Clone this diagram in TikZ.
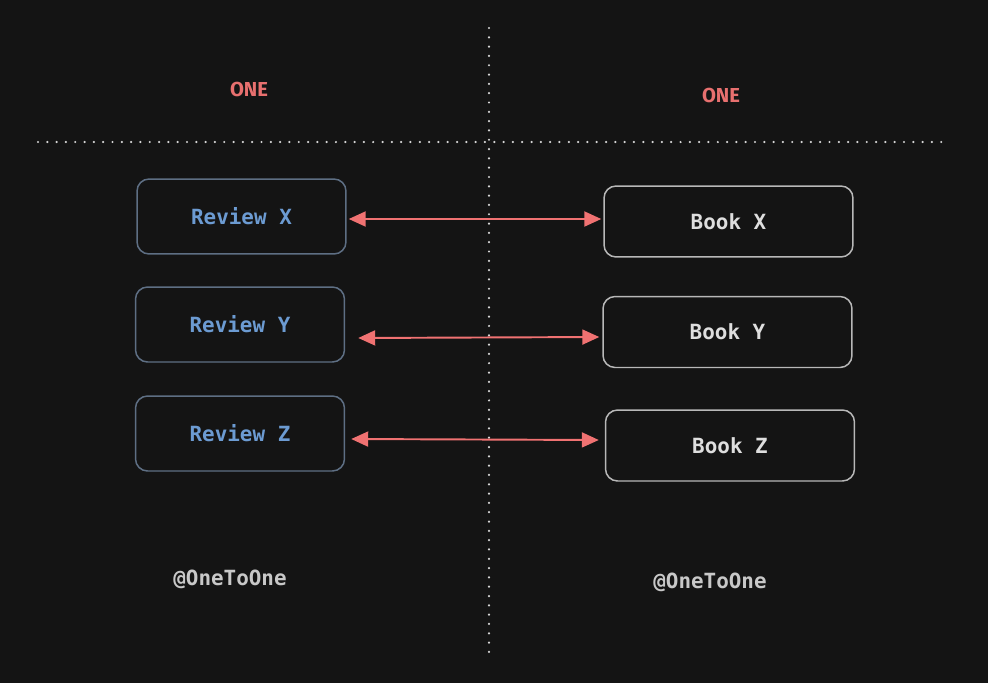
\documentclass[tikz,border=0pt]{standalone}
\usepackage{mathtools}
\usepackage{fontspec}
\setmainfont{Fira Sans}
\setmonofont{DejaVu Sans Mono}
\usepackage{tikz}
\usetikzlibrary{arrows.meta}
\definecolor{bg}{HTML}{141414}
\definecolor{onered}{HTML}{E8706F}
\definecolor{linkred}{HTML}{F07272}
\definecolor{reviewedge}{HTML}{5E6F84}
\definecolor{reviewtext}{HTML}{6C9BD2}
\definecolor{bookedge}{HTML}{B8B8B8}
\definecolor{booktext}{HTML}{DEDEDE}
\definecolor{sepgray}{HTML}{D5D5D5}
\definecolor{annotext}{HTML}{C8C8C8}

\begin{document}
\begin{tikzpicture}[x=0.02cm, y=-0.02cm,
  review/.style={draw=reviewedge, line width=0.85pt, rounded corners=0.24cm, minimum width=4.18cm, minimum height=1.5cm, text=reviewtext, font=\ttfamily\bfseries\fontsize{11.9}{14}\selectfont},
  book/.style={draw=bookedge, line width=0.85pt, rounded corners=0.24cm, minimum width=4.98cm, minimum height=1.42cm, text=booktext, font=\ttfamily\bfseries\fontsize{11.9}{14}\selectfont},
  side/.style={text=onered, font=\bfseries\fontsize{11.5}{14}\selectfont},
  anno/.style={text=annotext, font=\ttfamily\bfseries\fontsize{11.9}{14}\selectfont},
  link/.style={draw=linkred, line width=1.1pt, {Triangle[length=0.34cm,width=0.3cm]}-{Triangle[length=0.34cm,width=0.3cm]}},
  sep/.style={draw=sepgray, line width=1.4pt, line cap=round, dash pattern=on 0pt off 5.3pt}]
\fill [bg] (0,0) rectangle (988,683);
\useasboundingbox (0,0) rectangle (988,683);

\coordinate (vtop) at (489,28);
\coordinate (vbot) at (489,660);
\coordinate (hl) at (38,142);
\coordinate (hr) at (948,142);
\draw [sep] (vtop) -- (vbot);
\draw [sep] (hl) -- (hr);

\node [side] (onel) at (249,89) {ONE};
\node [side] (oner) at (721,95) {ONE};

\node [review] (rx) at (241.5,216.5) {Review X};
\node [review] (ry) at (240,324.5) {Review Y};
\node [review] (rz) at (240,433.5) {Review Z};

\node [book] (bx) at (728.5,221.5) {Book X};
\node [book] (by) at (727.5,332) {Book Y};
\node [book] (bz) at (730,445.5) {Book Z};

\draw [link] ([xshift=0.04cm, yshift=-0.05cm]rx.east) -- ([xshift=-0.04cm, yshift=0.05cm]bx.west);
\draw [link] ([xshift=0.26cm, yshift=-0.27cm]ry.east) -- ([xshift=-0.06cm, yshift=-0.1cm]by.west);
\draw [link] ([xshift=0.12cm, yshift=-0.11cm]rz.east) -- ([xshift=-0.12cm, yshift=0.11cm]bz.west);

\node [anno] (al) at (230,579) {@OneToOne};
\node [anno] (ar) at (710,582) {@OneToOne};
\end{tikzpicture}
\end{document}
